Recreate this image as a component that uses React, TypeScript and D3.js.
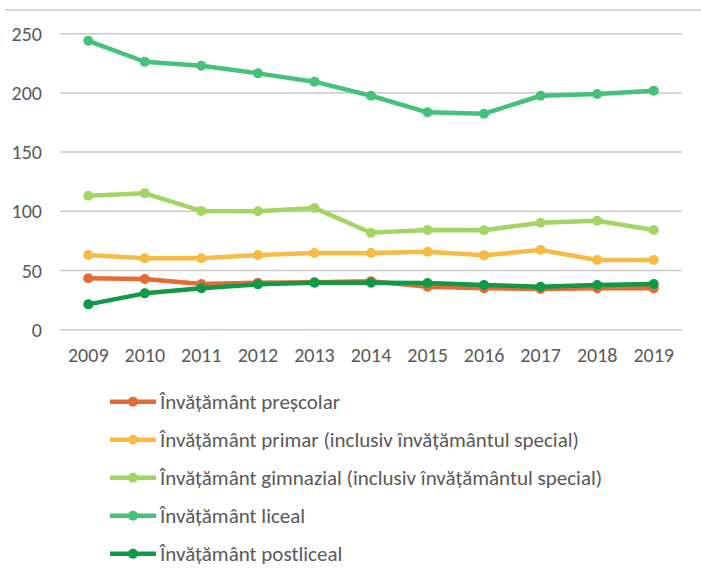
import React from "react";
import * as d3 from "d3";

const years = ["2009","2010","2011","2012","2013","2014","2015","2016","2017","2018","2019"];
const yTicks = [0, 50, 100, 150, 200, 250];

const prescolar = [43.4, 42.8, 38.6, 39.7, 40, 41, 36.3, 35, 34.4, 35, 35];
const primar = [63.1, 60.3, 60.3, 63, 64.8, 64.8, 65.9, 62.8, 67.3, 58.9, 58.9];
const gimnazial = [113.2, 115.2, 100.3, 100, 102.8, 81.9, 84.2, 84, 90.4, 92, 84.2];
const liceal = [244, 226.3, 223, 216.5, 209.5, 197.6, 183.6, 182.4, 197.6, 199, 201.9];
const postliceal = [21.4, 30.7, 35, 38.3, 39.7, 39.7, 39.5, 37.7, 36.3, 37.7, 38.6];

const seriesNames = [
  "Învățământ preșcolar",
  "Învățământ primar (inclusiv învățământul special)",
  "Învățământ gimnazial (inclusiv învățământul special)",
  "Învățământ liceal",
  "Învățământ postliceal",
];
const seriesValues = [prescolar, primar, gimnazial, liceal, postliceal];
const colors = ["#E56B34", "#F6BA45", "#A3D562", "#46C17C", "#0E9A47"];

const W = 701, H = 570;
const font = "Carlito, Calibri, 'Open Sans', sans-serif";

export default function App() {
  const x = d3.scalePoint<string>().domain(years).range([60, 682]).padding(0.5);
  const y = d3.scaleLinear().domain([0, 250]).range([329.7, 33.7]);
  const line = d3.line<number>().x((_, i) => x(years[i])!).y(d => y(d));
  const drawOrder = [0, 1, 2, 3, 4];
  return (
    <svg width={W} height={H} style={{ position: "absolute", left: 0, top: 0, background: "#fff" }}>
      <line x1={5} x2={W} y1={10} y2={10} stroke="#c8c8c8" strokeWidth={1.5} />
      {yTicks.map(t => (
        <g key={t}>
          <line x1={60} x2={682} y1={y(t)} y2={y(t)} stroke="#c9c9c9" strokeWidth={1.5} />
          <text x={42} y={y(t)} dy="0.35em" textAnchor="end" fontFamily={font} fontSize={20} fill="#595959">{t}</text>
        </g>
      ))}
      {years.map(yr => (
        <text key={yr} x={x(yr)} y={355} dy="0.35em" textAnchor="middle" fontFamily={font} fontSize={20} fill="#595959">{yr}</text>
      ))}
      {drawOrder.map(si => (
        <g key={si}>
          <path d={line(seriesValues[si]) || ""} fill="none" stroke={colors[si]} strokeWidth={4.5} strokeLinejoin="round" />
          {seriesValues[si].map((v, i) => (
            <circle key={i} cx={x(years[i])} cy={y(v)} r={5} fill={colors[si]} />
          ))}
        </g>
      ))}
      {seriesNames.map((name, i) => {
        const ly = 401.7 + i * 38;
        return (
          <g key={name}>
            <line x1={110} x2={156} y1={ly} y2={ly} stroke={colors[i]} strokeWidth={4.5} />
            <circle cx={133} cy={ly} r={5} fill={colors[i]} />
            <text x={160} y={ly} dy="0.35em" fontFamily={font} fontSize={21} fill="#595959">{name}</text>
          </g>
        );
      })}
    </svg>
  );
}
